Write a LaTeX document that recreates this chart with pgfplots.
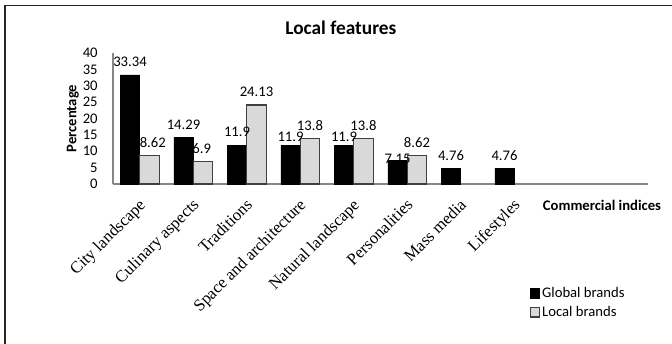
\documentclass[border=0pt]{standalone}
\usepackage{pgfplots}
\usepackage{pgfplotstable}
\pgfplotsset{compat=1.18}
\usepackage{fontspec}
\setmainfont{Carlito}
\newfontfamily\timesfont{Liberation Serif}
\definecolor{lightbar}{HTML}{D9D9D9}
\definecolor{baredge}{HTML}{404040}
\definecolor{axisgray}{HTML}{868686}
\pgfplotstableread{
x y lab dx dy
0 33.34 33.34 0 2.5
1 14.29 14.29 0 2.5
2 11.9 11.9 0 2.5
3 11.9 11.9 0 -1.0
4 11.9 11.9 0 -1.0
5 7.15 7.15 0 -5.5
6 4.76 4.76 0 2.5
7 4.76 4.76 0 2.5
}\globaldata
\pgfplotstableread{
x y lab dx dy
0 8.62 8.62 2.5 2.5
1 6.9 6.9 -1 2.5
2 24.13 24.13 0 2.5
3 13.8 13.8 0 2.5
4 13.8 13.8 0 2.5
5 8.62 8.62 0 2.5
}\localdata
\begin{document}
\begin{tikzpicture}
\useasboundingbox (0,0) rectangle (504bp,258bp);
\draw[black!85, line width=1.1bp] (3.75bp,254bp) -- (504bp,254bp);
\draw[black!85, line width=1.1bp] (3.75bp,254bp) -- (3.75bp,0bp);
\begin{axis}[
  at={(84.75bp,120bp)}, anchor=south west,
  scale only axis, width=401.25bp, height=98.25bp,
  ybar=0pt, bar width=14.6bp,
  xmin=-0.5, xmax=9.5, ymin=0, ymax=40,
  xtick={0,...,7},
  xticklabels={City landscape, Culinary aspects, Traditions, Space and architecture, Natural landscape, Personalities, Mass media, Lifestyles},
  ytick={0,5,...,40},
  major tick length=0pt,
  axis x line*=bottom, axis y line*=left,
  axis line style={draw=axisgray, line width=0.9bp, -},
  /pgf/number format/assume math mode=true,
  tick label style={font=\fontsize{11bp}{13bp}\selectfont},
  yticklabel style={xshift=-8bp},
  xticklabel style={font=\fontsize{12.5bp}{14bp}\selectfont\timesfont, yshift=-10bp, xshift=-1.3bp, rotate=45, anchor=north east, inner sep=0pt},
  ylabel={Percentage},
  ylabel style={at={(axis description cs:-0.075,0.5)}, anchor=center, font=\fontsize{11bp}{13bp}\selectfont\bfseries},
  title={Local features},
  title style={at={(axis description cs:0.426,1.214)}, anchor=center, yshift=-8bp, font=\fontsize{14.5bp}{17bp}\selectfont\bfseries},
  xlabel={Commercial indices},
  xlabel style={at={(axis description cs:0.914,-0.16)}, anchor=center, font=\fontsize{11bp}{13bp}\selectfont\bfseries},
  nodes near coords,
  visualization depends on={\thisrow{dx} \as \labdx},
  visualization depends on={\thisrow{dy} \as \labdy},
  every node near coord/.append style={font=\fontsize{11bp}{13bp}\selectfont, text=black, xshift=\labdx pt, yshift=\labdy pt},
  legend style={at={(axis description cs:0.778,-0.771)}, anchor=north west, draw=none, fill=none,
    font=\fontsize{11bp}{13bp}\selectfont, row sep=2bp, inner sep=0pt,
    nodes={inner sep=1.5bp, anchor=west}},
  sqlegend/.style={legend image code/.code={\draw[##1] (0bp,-3.6bp) rectangle (7.2bp,3.6bp);}},
  clip=false,
]
\addplot[fill=black, draw=black, sqlegend, point meta=explicit symbolic]
  table[x=x, y=y, meta=lab] {\globaldata};
\addplot[fill=lightbar, draw=baredge, line width=0.8bp, sqlegend, point meta=explicit symbolic]
  table[x=x, y=y, meta=lab] {\localdata};
\legend{Global brands, Local brands}
\end{axis}
\end{tikzpicture}
\end{document}
